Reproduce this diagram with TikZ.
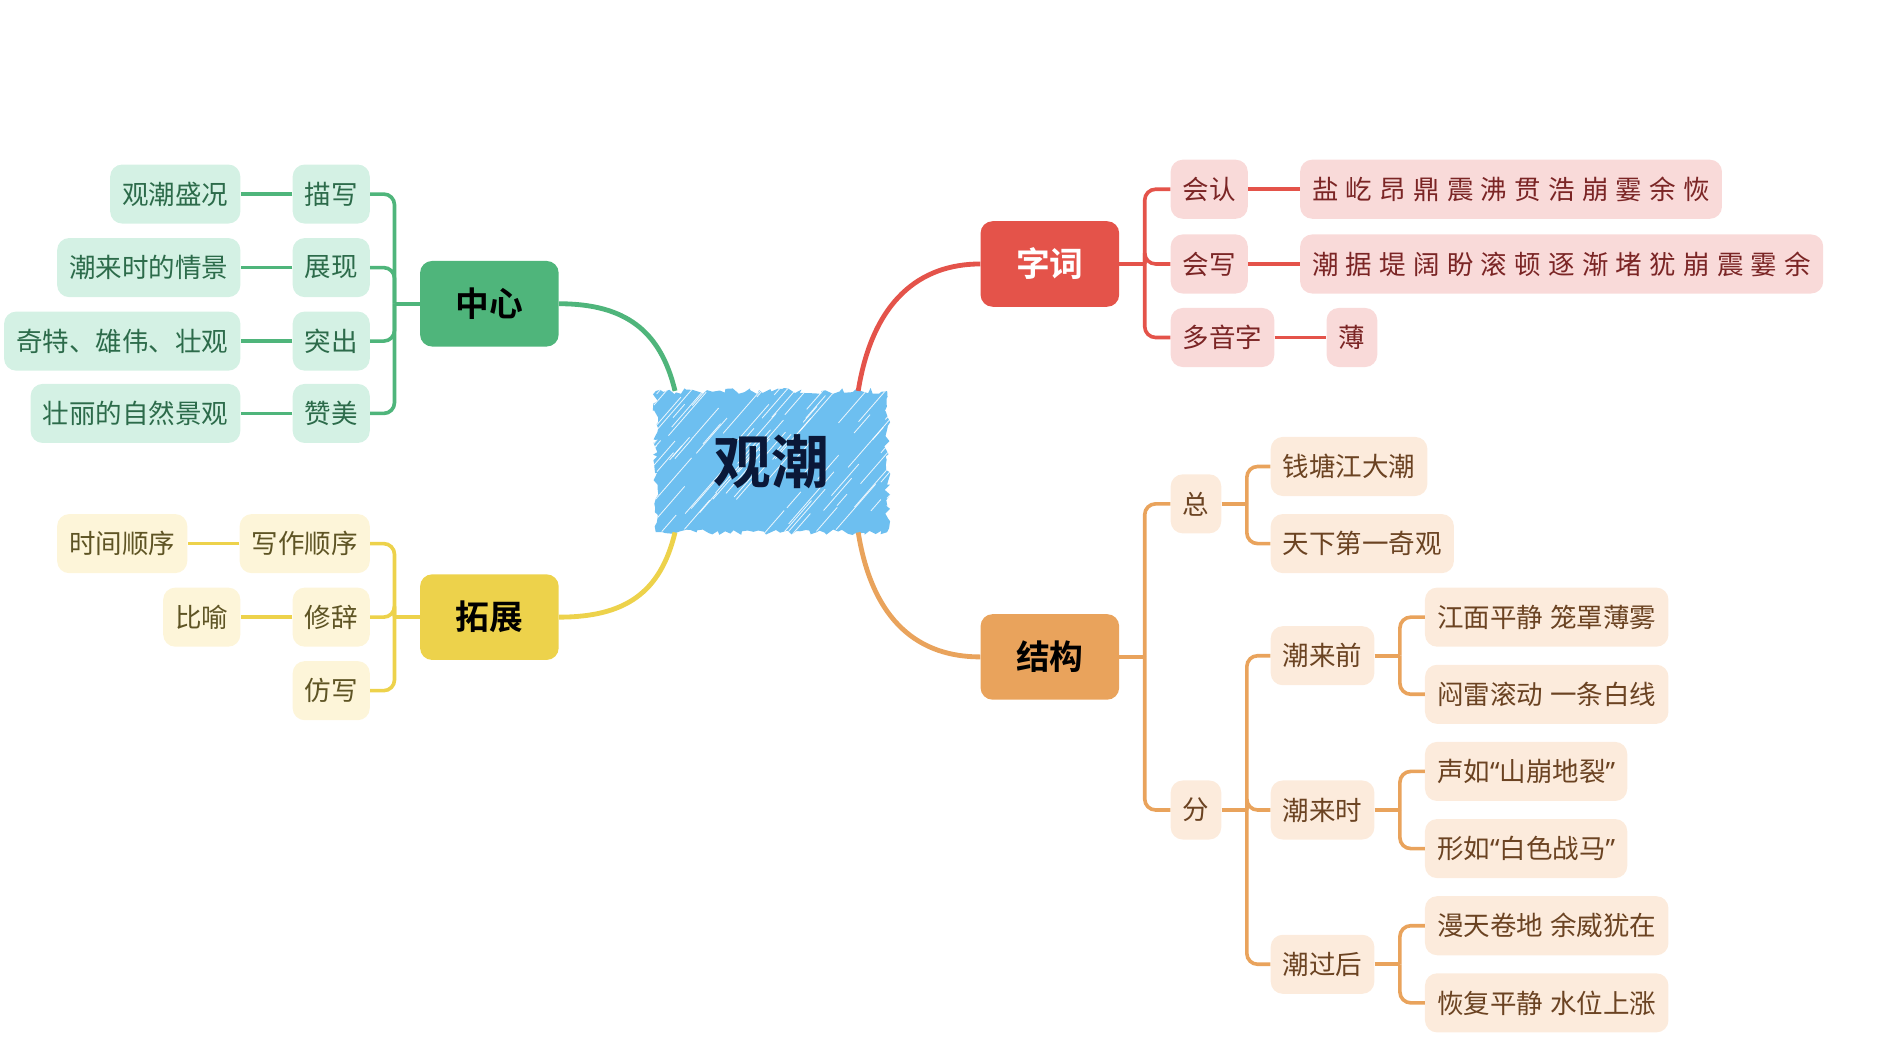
\documentclass[tikz,border=0pt]{standalone}
\usepackage{fontspec}
\newfontfamily\cjk{Noto Sans CJK SC}[BoldFont={Noto Sans CJK SC Bold}]
\newfontfamily\lat{Noto Sans}
\newcommand\quo[1]{{\lat“}#1{\lat”}}
\newcommand\itemfont{\cjk\fontsize{22}{26}\selectfont\spaceskip 6pt\relax}
\usetikzlibrary{positioning,decorations.pathmorphing}

\definecolor{sky}{HTML}{6DBFF0}
\definecolor{ink}{HTML}{0A1838}
\definecolor{greenD}{HTML}{4FB57B}
\definecolor{greenL}{HTML}{D4F1E4}
\definecolor{greenT}{HTML}{2C6B4A}
\definecolor{yellowD}{HTML}{EDD24B}
\definecolor{yellowL}{HTML}{FDF5D9}
\definecolor{yellowT}{HTML}{5E5424}
\definecolor{redD}{HTML}{E4534A}
\definecolor{redL}{HTML}{F9DAD9}
\definecolor{redT}{HTML}{7B2525}
\definecolor{orangeD}{HTML}{E9A35C}
\definecolor{orangeL}{HTML}{FCEBDC}
\definecolor{orangeT}{HTML}{6B4322}

\begin{document}
\begin{tikzpicture}[
    x=1pt, y=-1pt,
    line/.style   = {line width=3pt, rounded corners=9pt},
    link/.style   = {line width=4pt},
    root/.style   = {fill=sky, text=ink, decorate,
                     decoration={random steps, segment length=3.5pt, amplitude=2.6pt},
                     minimum width=192pt, minimum height=117pt,
                     font=\cjk\bfseries\fontsize{48}{52}\selectfont,
                     path picture={
                       \foreach \k in {1,...,90} {
                         \pgfmathsetmacro\px{rnd*230-30}
                         \pgfmathsetmacro\py{rnd*125}
                         \pgfmathsetmacro\sl{8+rnd*30}
                         \draw[white, line width=0.7pt, opacity=0.85]
                           ([shift={(\px,-\py)}]path picture bounding box.south west)
                           -- ++(\sl,-1.15*\sl);
                       }}},
    topic/.style  = {rounded corners=10pt, minimum width=115pt, minimum height=71pt,
                     font=\cjk\bfseries\fontsize{28}{32}\selectfont},
    item/.style   = {rounded corners=10pt, minimum height=49pt, inner xsep=10pt,
                     font=\itemfont},
    gitem/.style  = {item, fill=greenL, text=greenT},
    yitem/.style  = {item, fill=yellowL, text=yellowT},
    ritem/.style  = {item, fill=redL, text=redT},
    oitem/.style  = {item, fill=orangeL, text=orangeT}
]
\useasboundingbox (0,0) rectangle (1568,874);

% Central topic
\pgfmathsetseed{11}
\node[root] (C) at (640, 383) {观潮};

% Main branches
\node[topic, fill=greenD, text=black]  (Z) at (406, 252) {中心};
\node[topic, fill=yellowD, text=black] (T) at (406, 512) {拓展};
\node[topic, fill=redD, text=white]    (W) at (871, 219) {字词};
\node[topic, fill=orangeD, text=black] (J) at (871, 545) {结构};
\draw[link, greenD]  ([xshift=-80pt]C.north) .. controls +(-12,-50) and +(55,0) .. (Z.east);
\draw[link, yellowD] ([xshift=-80pt]C.south) .. controls +(-12,50) and +(55,0) .. (T.east);
\draw[link, redD]    ([xshift=72pt]C.north) .. controls +(12,-75) and +(-50,0) .. (W.west);
\draw[link, orangeD] ([xshift=72pt]C.south) .. controls +(12,75) and +(-50,0) .. (J.west);

% 中心
\draw[line, greenD] (Z.west) -- ++(-21,0) coordinate (Zs);
\foreach \n/\y/\a/\b in {1/161/描写/观潮盛况, 2/222/展现/潮来时的情景,
                         3/283/突出/奇特、雄伟、壮观, 4/343/赞美/壮丽的自然景观} {
    \node[gitem, anchor=east] (Z\n) at (307, \y) {\a};
    \node[gitem, left=43pt of Z\n] (Z\n x) {\b};
    \draw[line, greenD] (Zs) |- (Z\n.east);
    \draw[line, greenD] (Z\n.west) -- (Z\n x.east);
}

% 拓展
\draw[line, yellowD] (T.west) -- ++(-21,0) coordinate (Ts);
\foreach \n/\y/\a in {1/451/写作顺序, 2/512/修辞, 3/573/仿写} {
    \node[yitem, anchor=east] (T\n) at (307, \y) {\a};
    \draw[line, yellowD] (Ts) |- (T\n.east);
}
\node[yitem, left=43pt of T1] (T1x) {时间顺序};
\node[yitem, left=43pt of T2] (T2x) {比喻};
\foreach \n in {1, 2}
    \draw[line, yellowD] (T\n.west) -- (T\n x.east);

% 字词
\draw[line, redD] (W.east) -- ++(21,0) coordinate (Ws);
\foreach \n/\y/\a/\b in {1/157/会认/盐 屹 昂 鼎 震 沸 贯 浩 崩 霎 余 恢,
                         2/219/会写/潮 据 堤 阔 盼 滚 顿 逐 渐 堵 犹 崩 震 霎 余,
                         3/280/多音字/薄} {
    \node[ritem, anchor=west] (W\n) at (971, \y) {\a};
    \node[ritem, right=43pt of W\n] (W\n x) {\b};
    \draw[line, redD] (Ws) |- (W\n.west);
    \draw[line, redD] (W\n.east) -- (W\n x.west);
}

% 结构: 总
\draw[line, orangeD] (J.east) -- ++(21,0) coordinate (Js);
\node[oitem, anchor=west] (J1) at (971, 418) {总};
\node[oitem, anchor=west] (J2) at (971, 672) {分};
\foreach \b in {J1, J2}
    \draw[line, orangeD] (Js) |- (\b.west);
\draw[line, orangeD] (J1.east) -- ++(21,0) coordinate (J1s);
\foreach \n/\y/\a in {a/387/钱塘江大潮, b/451/天下第一奇观} {
    \node[oitem, anchor=west] (J1\n) at (1054, \y) {\a};
    \draw[line, orangeD] (J1s) |- (J1\n.west);
}

% 结构: 分
\draw[line, orangeD] (J2.east) -- ++(21,0) coordinate (J2s);
\foreach \n/\y/\a/\b/\c in {1/544/潮来前/江面平静 笼罩薄雾/闷雷滚动 一条白线,
                            2/672/潮来时/声如\quo{山崩地裂}/形如\quo{白色战马},
                            3/800/潮过后/漫天卷地 余威犹在/恢复平静 水位上涨} {
    \node[oitem, anchor=west] (F\n) at (1054, \y) {\a};
    \draw[line, orangeD] (J2s) |- (F\n.west);
    \draw[line, orangeD] (F\n.east) -- ++(21,0) coordinate (F\n s);
    \node[oitem, anchor=west] (F\n a) at (1182, \y-32) {\b};
    \node[oitem, anchor=west] (F\n b) at (1182, \y+32) {\c};
    \draw[line, orangeD] (F\n s) |- (F\n a.west);
    \draw[line, orangeD] (F\n s) |- (F\n b.west);
}

\end{tikzpicture}
\end{document}
